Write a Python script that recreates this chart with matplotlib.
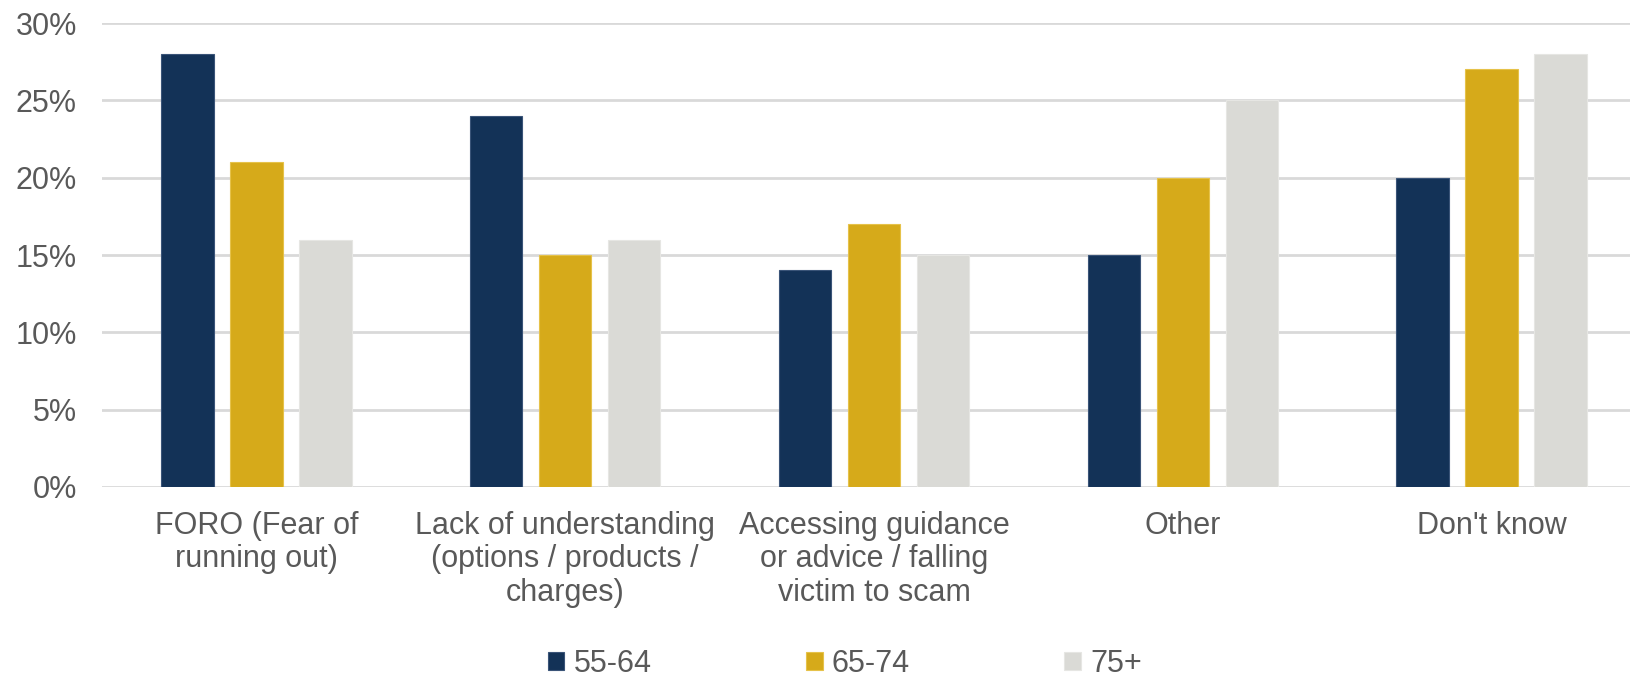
import matplotlib
matplotlib.use("Agg")
import matplotlib.pyplot as plt
import numpy as np
from matplotlib.patches import Patch

categories = ["FORO (Fear of\nrunning out)",
              "Lack of understanding\n(options / products /\ncharges)",
              "Accessing guidance\nor advice / falling\nvictim to scam",
              "Other",
              "Don't know"]
series_names = ["55-64", "65-74", "75+"]
s55_64 = [28, 24, 14, 15, 20]
s65_74 = [21, 15, 17, 20, 27]
s75p = [16, 16, 15, 25, 28]
yticks = [0, 5, 10, 15, 20, 25, 30]

colors = ["#133257", "#D6AA1A", "#DADAD6"]
edges = ["#3A5478", "#E6C24A", "#E6E6E3"]

plt.rcParams['font.family'] = ['Liberation Sans', 'DejaVu Sans']
fig = plt.figure(figsize=(16.31, 6.76), dpi=100)
ax = fig.add_axes([102/1631, 189/676, (1646-102)/1631, (487-23)/676])

x = np.arange(len(categories))
w = 0.17
step = 0.2235
for i, (vals, c, ec) in enumerate(zip([s55_64, s65_74, s75p], colors, edges)):
    ax.bar(x + (i - 1) * step, vals, width=w, color=c, edgecolor=ec, linewidth=0.8,
           zorder=3, label=series_names[i])

ax.set_xlim(-0.5, len(categories) - 0.5)
ax.set_ylim(0, 30)
ax.set_yticks(yticks)
ax.set_yticklabels([f"{t}%" for t in yticks])
ax.set_xticks(x)
ax.set_xticklabels(categories, linespacing=1.15)
ax.yaxis.grid(True, color="#D9D9D9", linewidth=2, zorder=0)
ax.set_axisbelow(True)
for s in ax.spines.values():
    s.set_visible(False)
ax.tick_params(axis='both', length=0, labelsize=22, labelcolor="#595959")
ax.tick_params(axis='y', pad=18)
ax.tick_params(axis='x', pad=17)

handles = [Patch(facecolor=c, edgecolor=ec, linewidth=0.8) for c, ec in zip(colors, edges)]
fig.legend(handles, series_names, loc='center', bbox_to_anchor=(0.518, 0.018), ncol=3,
           frameon=False, fontsize=22, labelcolor="#595959", handlelength=0.55,
           handleheight=0.55, handletextpad=0.3, columnspacing=5.05)

fig.savefig("out.png", dpi=100)
